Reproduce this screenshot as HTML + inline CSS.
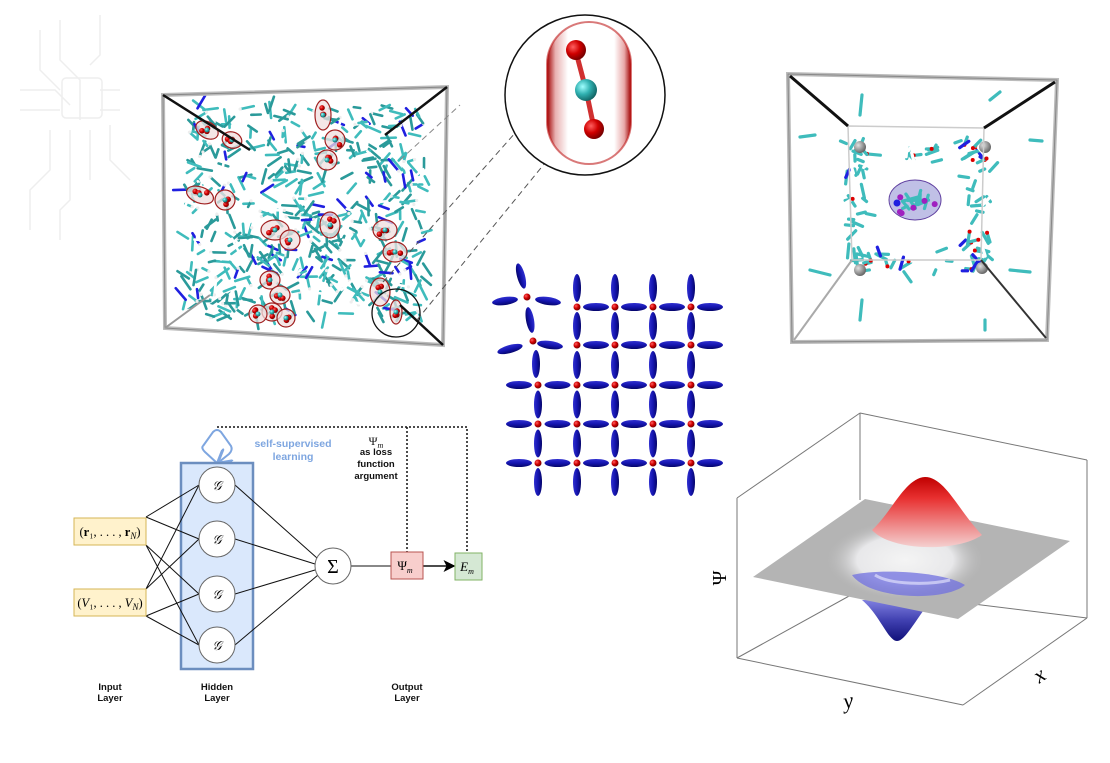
<!DOCTYPE html>
<html><head><meta charset="utf-8"><style>
html,body{margin:0;padding:0;background:#fff;}
body{width:1110px;height:763px;overflow:hidden;position:relative;font-family:"Liberation Sans",sans-serif;}
svg{position:absolute;left:0;top:0;}
</style></head><body>
<svg id="s" width="1110" height="763" viewBox="0 0 1110 763" xmlns="http://www.w3.org/2000/svg">
<defs>
<radialGradient id="rb" cx="35%" cy="35%" r="70%"><stop offset="0" stop-color="#ff6060"/><stop offset="0.5" stop-color="#d00000"/><stop offset="1" stop-color="#700000"/></radialGradient>
<radialGradient id="cb" cx="35%" cy="35%" r="70%"><stop offset="0" stop-color="#a0ffff"/><stop offset="0.5" stop-color="#30b0b0"/><stop offset="1" stop-color="#106060"/></radialGradient>
<radialGradient id="gb" cx="35%" cy="35%" r="70%"><stop offset="0" stop-color="#e0e0e0"/><stop offset="1" stop-color="#606060"/></radialGradient>
<linearGradient id="bl" x1="0" y1="0" x2="0" y2="1"><stop offset="0" stop-color="#3030d0"/><stop offset="0.5" stop-color="#1515b0"/><stop offset="1" stop-color="#05056a"/></linearGradient>
<linearGradient id="blv" x1="0" y1="0" x2="1" y2="0"><stop offset="0" stop-color="#3030d0"/><stop offset="0.5" stop-color="#1515b0"/><stop offset="1" stop-color="#05056a"/></linearGradient>
<linearGradient id="pill" x1="0" y1="0" x2="1" y2="0"><stop offset="0" stop-color="#a00000"/><stop offset="0.1" stop-color="#e8b0b0"/><stop offset="0.25" stop-color="#ffffff"/><stop offset="0.8" stop-color="#ffffff"/><stop offset="0.92" stop-color="#e8a8a8"/><stop offset="1" stop-color="#a00000"/></linearGradient>
<linearGradient id="red" x1="0" y1="0" x2="0" y2="1"><stop offset="0" stop-color="#c00000"/><stop offset="0.3" stop-color="#e83030"/><stop offset="1" stop-color="#f4d0d0"/></linearGradient>
<linearGradient id="blu" x1="0" y1="0" x2="0" y2="1"><stop offset="0" stop-color="#8080e0"/><stop offset="0.5" stop-color="#4040b0"/><stop offset="1" stop-color="#10107a"/></linearGradient>
<radialGradient id="plB" cx="50%" cy="50%" r="50%"><stop offset="0" stop-color="#c8c8ff"/><stop offset="1" stop-color="#b4b4b4" stop-opacity="0"/></radialGradient>
<radialGradient id="plW" cx="50%" cy="50%" r="50%"><stop offset="0" stop-color="#f4f4f4"/><stop offset="0.6" stop-color="#e8e8ea"/><stop offset="1" stop-color="#b4b4b4" stop-opacity="0"/></radialGradient>
<marker id="ah" markerWidth="8" markerHeight="8" refX="7" refY="4" orient="auto"><path d="M0,0 L8,4 L0,8 L2,4z" fill="#000"/></marker>
<marker id="ahb" markerWidth="8" markerHeight="8" refX="6" refY="4" orient="auto"><path d="M0,0 L7,4 L0,8" fill="none" stroke="#7ea6e0" stroke-width="1.5"/></marker>
</defs>

<g stroke="#eeeeee" stroke-width="1.5" fill="none">
<path d="M60,20 L60,60 L80,80 L80,120"/><path d="M40,30 L40,70 L60,90"/><path d="M100,15 L100,55 L90,65"/><path d="M20,90 L55,90 L70,105"/><path d="M20,110 L60,110"/><path d="M120,90 L100,90"/><path d="M120,110 L100,110"/><path d="M50,130 L50,170 L30,190 L30,230"/><path d="M70,130 L70,200 L60,210 L60,240"/><path d="M90,130 L90,180"/><path d="M110,125 L110,160 L130,180"/>
<rect x="62" y="78" width="40" height="40" rx="4"/>
</g>

<g id="lbox"></g>
<polygon points="163,95 447,87 443,345 165,328" fill="none" stroke="#bbb" stroke-width="4"/>
<polygon points="163,95 447,87 443,345 165,328" fill="none" stroke="#888" stroke-width="1"/>
<line x1="163" y1="95" x2="250" y2="150" stroke="#111" stroke-width="2.5"/>
<line x1="447" y1="87" x2="385" y2="135" stroke="#111" stroke-width="2.5"/>
<line x1="443" y1="345" x2="400" y2="305" stroke="#111" stroke-width="2.5"/>
<line x1="165" y1="328" x2="210" y2="295" stroke="#999" stroke-width="2"/>
<line x1="400" y1="160" x2="460" y2="105" stroke="#888" stroke-width="1" stroke-dasharray="6,4"/>
<circle cx="396" cy="313" r="24" fill="none" stroke="#111" stroke-width="1.3"/>
<line x1="383" y1="282" x2="516" y2="132" stroke="#555" stroke-width="1" stroke-dasharray="6,4"/>
<line x1="417" y1="320" x2="545" y2="163" stroke="#555" stroke-width="1" stroke-dasharray="6,4"/>

<circle cx="585" cy="95" r="80" fill="#fff" stroke="#111" stroke-width="1.5"/>
<rect x="547" y="22" width="84" height="142" rx="42" fill="url(#pill)"/>
<rect x="547" y="22" width="84" height="142" rx="42" fill="none" stroke="#c02020" stroke-width="2" opacity="0.6"/>
<line x1="576" y1="52" x2="586" y2="90" stroke="#d03030" stroke-width="5"/>
<line x1="586" y1="90" x2="594" y2="128" stroke="#d03030" stroke-width="5"/>
<circle cx="576" cy="50" r="10" fill="url(#rb)"/>
<circle cx="586" cy="90" r="11" fill="url(#cb)"/>
<circle cx="594" cy="129" r="10" fill="url(#rb)"/>

<g id="rbox"></g>
<polygon points="788,74 1057,80 1047,340 792,342" fill="none" stroke="#bbb" stroke-width="4"/>
<polygon points="788,74 1057,80 1047,340 792,342" fill="none" stroke="#888" stroke-width="1"/>
<polygon points="848,126 984,128 981,260 852,260" fill="none" stroke="#ccc" stroke-width="1.5"/>
<line x1="790" y1="76" x2="848" y2="126" stroke="#111" stroke-width="3"/>
<line x1="1055" y1="82" x2="984" y2="128" stroke="#111" stroke-width="3"/>
<line x1="1046" y1="338" x2="981" y2="260" stroke="#333" stroke-width="2"/>
<line x1="794" y1="340" x2="852" y2="260" stroke="#aaa" stroke-width="2"/>

<g id="lat"></g>

<g stroke="#777" stroke-width="1" fill="none">
<line x1="860" y1="413" x2="1087" y2="460"/>
<line x1="860" y1="413" x2="737" y2="498"/>
<line x1="860" y1="413" x2="860" y2="500"/>
<line x1="737" y1="498" x2="737" y2="658"/>
<line x1="1087" y1="460" x2="1087" y2="618"/>
<line x1="737" y1="658" x2="963" y2="705"/>
<line x1="963" y1="705" x2="1087" y2="618"/>
<line x1="860" y1="590" x2="737" y2="658"/>
<line x1="860" y1="590" x2="1087" y2="618"/>
</g>
<path d="M862,600 C880,615 888,641 897,641 C906,641 918,615 932,600 Z" fill="url(#blu)"/>
<polygon points="753,577 865,499 1070,541 958,619" fill="#b4b4b4"/>
<ellipse cx="905" cy="560" rx="80" ry="40" fill="url(#plW)"/>
<path d="M852,575 C870,600 945,602 965,585 C945,572 880,568 852,575Z" fill="#7070e0" opacity="0.75"/>
<path d="M875,575 C890,585 930,585 950,580" fill="none" stroke="#ececff" stroke-width="3" opacity="0.6"/>
<path d="M872,530 C892,512 905,478 925,477 C945,477 958,510 982,535 C958,552 892,552 872,530Z" fill="url(#red)"/>
<text x="722" y="582" font-family="Liberation Serif,serif" font-size="20" text-anchor="middle" transform="rotate(-90 722 578)">Ψ</text>
<text x="848" y="708" font-family="Liberation Serif,serif" font-style="italic" font-size="22" text-anchor="middle" transform="rotate(-10 848 700)">y</text>
<text x="1040" y="682" font-family="Liberation Serif,serif" font-style="italic" font-size="22" text-anchor="middle" transform="rotate(-35 1040 676)">x</text>

<path d="M203,446 L213,432 Q217,428 221,432 L231,446 Q233,450 229,454 L219,462" fill="none" stroke="#7ea6e0" stroke-width="2" marker-end="url(#ahb)"/>
<path d="M217,463 L205,452 Q201,448 203,446" fill="none" stroke="#7ea6e0" stroke-width="2"/>
<rect x="181" y="463" width="72" height="206" fill="#dae8fc" stroke="#6c8ebf" stroke-width="2.5"/>
<text x="293" y="447" fill="#7ea6e0" font-size="10.5" font-weight="bold" text-anchor="middle">self-supervised</text>
<text x="293" y="460" fill="#7ea6e0" font-size="10.5" font-weight="bold" text-anchor="middle">learning</text>
<g stroke="#111" stroke-width="1">
<line x1="146" y1="517" x2="199" y2="485"/><line x1="146" y1="517" x2="199" y2="539"/>
<line x1="146" y1="545" x2="199" y2="594"/><line x1="146" y1="545" x2="199" y2="645"/>
<line x1="146" y1="589" x2="199" y2="485"/><line x1="146" y1="589" x2="199" y2="539"/>
<line x1="146" y1="616" x2="199" y2="594"/><line x1="146" y1="616" x2="199" y2="645"/>
<line x1="235" y1="485" x2="317" y2="558"/><line x1="235" y1="539" x2="315" y2="564"/>
<line x1="235" y1="594" x2="315" y2="570"/><line x1="235" y1="645" x2="318" y2="575"/>
<line x1="351" y1="566" x2="391" y2="566"/>
<line x1="423" y1="566" x2="454" y2="566" stroke-width="1.5" marker-end="url(#ah)"/>
</g>
<path d="M217,427 L467,427 L467,553 M407,427 L407,552" fill="none" stroke="#111" stroke-width="1.5" stroke-dasharray="2,2"/>
<rect x="74" y="518" width="72" height="27" fill="#fff2cc" stroke="#d6b656"/>
<rect x="74" y="589" width="72" height="27" fill="#fff2cc" stroke="#d6b656"/>
<text x="110" y="536" font-family="Liberation Serif,serif" font-size="12.5" text-anchor="middle">(<tspan font-weight="bold">r</tspan>₁, . . . , <tspan font-weight="bold">r</tspan><tspan font-style="italic" font-size="9" dy="3">N</tspan><tspan dy="-3">)</tspan></text>
<text x="110" y="607" font-family="Liberation Serif,serif" font-size="12.5" text-anchor="middle">(<tspan font-style="italic">V</tspan>₁, . . . , <tspan font-style="italic">V</tspan><tspan font-style="italic" font-size="9" dy="3">N</tspan><tspan dy="-3">)</tspan></text>
<g fill="#fff" stroke="#666" stroke-width="1">
<circle cx="217" cy="485" r="18"/><circle cx="217" cy="539" r="18"/><circle cx="217" cy="594" r="18"/><circle cx="217" cy="645" r="18"/>
<circle cx="333" cy="566" r="18"/>
</g>
<g font-family="Liberation Serif,serif" font-style="italic" font-size="13" text-anchor="middle">
<text x="217" y="490">𝒢</text><text x="217" y="544">𝒢</text><text x="217" y="599">𝒢</text><text x="217" y="650">𝒢</text>
</g>
<text x="333" y="573" font-family="Liberation Serif,serif" font-size="20" text-anchor="middle">Σ</text>
<rect x="391" y="552" width="32" height="27" fill="#f8cecc" stroke="#b85450"/>
<text x="405" y="570" font-family="Liberation Serif,serif" font-size="13" text-anchor="middle">Ψ<tspan font-style="italic" font-size="8" dy="3">m</tspan></text>
<rect x="455" y="553" width="27" height="27" fill="#d5e8d4" stroke="#82b366"/>
<text x="467" y="571" font-family="Liberation Serif,serif" font-style="italic" font-size="13" text-anchor="middle">E<tspan font-size="8" dy="3">m</tspan></text>
<g font-size="9.5" font-weight="bold" text-anchor="middle" fill="#111">
<text x="376" y="445" font-family="Liberation Serif,serif" font-weight="normal" font-size="12">Ψ<tspan font-style="italic" font-size="8" dy="3">m</tspan></text>
<text x="376" y="455">as loss</text><text x="376" y="467">function</text><text x="376" y="479">argument</text>
<text x="110" y="690">Input</text><text x="110" y="701">Layer</text>
<text x="217" y="690">Hidden</text><text x="217" y="701">Layer</text>
<text x="407" y="690">Output</text><text x="407" y="701">Layer</text>
</g>
</svg>
<script>
var NS="http://www.w3.org/2000/svg";
function el(p,t,a){var e=document.createElementNS(NS,t);for(var k in a)e.setAttribute(k,a[k]);p.appendChild(e);return e;}
var seed=7;function r(){seed=(seed*16807)%2147483647;return (seed-1)/2147483646;}
var L=document.getElementById('lat');
function hE(x,y){el(L,'ellipse',{cx:x,cy:y,rx:13,ry:4,fill:'url(#bl)'});}
function vE(x,y){el(L,'ellipse',{cx:x,cy:y,rx:4,ry:14,fill:'url(#blv)'});}
function tE(x,y,a){el(L,'ellipse',{cx:x,cy:y,rx:13,ry:4,fill:'url(#bl)',transform:'rotate('+a+' '+x+' '+y+')'});}
var cols=[538,577,615,653,691],rows=[307,345,385,424,463];
var nodes=[];
for(var i=0;i<5;i++)for(var j=0;j<5;j++){if(i<2&&j==0)continue;nodes.push([cols[j],rows[i]]);}
for(var i=0;i<5;i++){for(var j=0;j<5;j++){if(i<2&&j==0)continue;
 var x=cols[j],y=rows[i];
 if(j<4) hE((x+cols[j+1])/2,y); else hE(x+19,y);
 if(j==0) hE(x-19,y);
 if(i<4){ if(!(i==1&&j==0)) vE(x,(y+rows[i+1])/2);} else vE(x,y+19);
 if(i==0) vE(x,y-19);
}}
vE(536,364);
tE(521,276,75);tE(505,301,-8);tE(548,301,8);tE(530,320,80);tE(510,349,-15);tE(550,345,8);
nodes.push([527,297],[533,341]);
nodes.forEach(function(n){el(L,'circle',{cx:n[0],cy:n[1],r:3.5,fill:'url(#rb)'});});
var B=document.getElementById('lbox');
for(var k=0;k<560;k++){var x=185+r()*240,y=108+r()*210;var a=r()*6.28,l=6+r()*10;
 var c=r()<0.08?'#2020e0':(r()<0.12?'#ffffff':(r()<0.5?'#3fbcbc':'#2a9a9a'));
 el(B,'line',{x1:x,y1:y,x2:x+Math.cos(a)*l,y2:y+Math.sin(a)*l,stroke:c,'stroke-width':2.6,'stroke-linecap':'round'});
 if(r()<0.2)el(B,'circle',{cx:x,cy:y,r:1.6,fill:'#eee'});}
var blobs=[[207,130,12,8,30],[232,140,10,8,20],[323,115,8,15,0],[335,140,10,10,0],[327,160,10,10,0],[200,195,14,8,20],[225,200,10,10,0],[330,225,10,13,0],[275,230,14,10,0],[290,240,10,10,0],[385,230,12,10,0],[395,252,12,10,0],[270,280,10,9,0],[280,295,10,9,0],[272,312,10,9,0],[286,318,9,9,0],[258,314,9,9,0],[380,292,10,14,0],[396,312,6,12,0]];
blobs.forEach(function(b){el(B,'ellipse',{cx:b[0],cy:b[1],rx:b[2],ry:b[3],fill:'#f0dede','fill-opacity':0.75,stroke:'#a02020','stroke-width':1.2,transform:'rotate('+b[4]+' '+b[0]+' '+b[1]+')'});
 for(var q=0;q<3;q++)el(B,'circle',{cx:b[0]+(r()-0.5)*b[2],cy:b[1]+(r()-0.5)*b[3],r:2.8,fill:'url(#rb)'});
 el(B,'circle',{cx:b[0],cy:b[1],r:2.5,fill:'url(#cb)'});});
var R=document.getElementById('rbox');
function seg(x1,y1,x2,y2,c,w){el(R,'line',{x1:x1,y1:y1,x2:x2,y2:y2,stroke:c||'#3fbcbc','stroke-width':w||3.2,'stroke-linecap':'round'});}
for(var k=0;k<110;k++){var side=k%4,t=r();var x,y;
 if(side==0){x=850+t*135;y=140+r()*20;}else if(side==1){x=850+t*135;y=250+r()*22;}
 else if(side==2){x=845+r()*22;y=130+t*140;}else{x=965+r()*25;y=130+t*140;}
 var a=r()*6.28,l=5+r()*9;var c=r()<0.1?'#2020e0':(r()<0.15?'#fff':'#3fbcbc');
 seg(x,y,x+Math.cos(a)*l,y+Math.sin(a)*l,c);
 if(r()<0.15)el(R,'circle',{cx:x,cy:y,r:2,fill:'#d00'});}
seg(862,95,860,115);seg(800,137,815,135);seg(1000,92,990,100);seg(1030,140,1042,141);seg(810,270,830,275);seg(1010,270,1030,272);seg(862,300,860,320);seg(982,310,982,320,'#fff');seg(985,320,985,330);
[[860,147],[985,147],[860,270],[982,268]].forEach(function(p){el(R,'circle',{cx:p[0],cy:p[1],r:6,fill:'url(#gb)'});});
el(R,'ellipse',{cx:915,cy:200,rx:26,ry:20,fill:'#b0b0e0','fill-opacity':0.8,stroke:'#6040a0'});
for(var k=0;k<10;k++)seg(900+r()*30,190+r()*20,900+r()*30,190+r()*20);
for(var k=0;k<7;k++)el(R,'circle',{cx:895+r()*40,cy:185+r()*30,r:3,fill:'#a020c0'});
el(R,'circle',{cx:897,cy:203,r:3.5,fill:'#2020e0'});
</script>
</body></html>
